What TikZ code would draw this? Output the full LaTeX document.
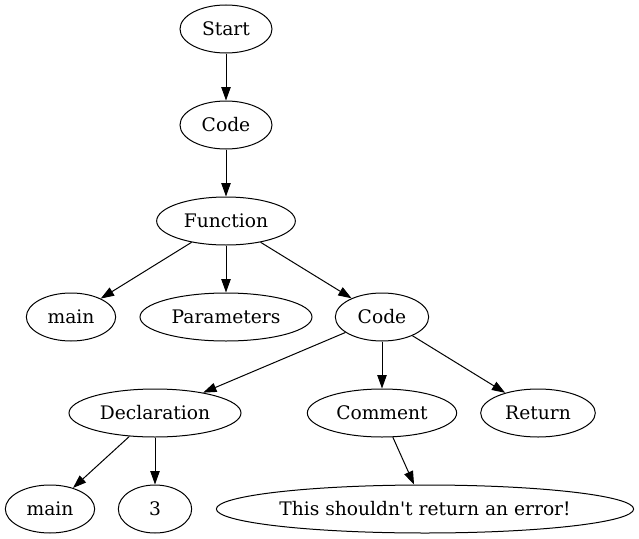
\documentclass[tikz,border=0pt]{standalone}
\usepackage{fontspec}
\setmainfont{DejaVu Serif}
\usetikzlibrary{shapes.geometric,arrows.meta}
\begin{document}
\begin{tikzpicture}[x=0.75pt,y=-0.75pt,
  every node/.style={draw,ellipse,line width=0.75pt,inner sep=1pt,minimum height=36pt,font=\fontsize{14}{16}\selectfont},
  tree/.style={line width=0.75pt,-{Triangle[length=10pt,width=7pt]}}]
\useasboundingbox (0,0) rectangle (639,539);

\node[minimum width=69pt] (st) at (226,29) {Start};
\node[minimum width=69pt] (cd) at (226,125) {Code};
\node[minimum width=104pt] (fn) at (226,221) {Function};
\node[minimum width=67pt] (mn) at (71,317) {main};
\node[minimum width=129pt] (pr) at (226,317) {Parameters};
\node[minimum width=70pt] (cb) at (382,317) {Code};
\node[minimum width=129pt] (dc) at (155,413) {Declaration};
\node[minimum width=112pt] (cm) at (382,413) {Comment};
\node[minimum width=86pt] (rt) at (538,413) {Return};
\node[minimum width=67pt] (mv) at (50,509) {main};
\node[minimum width=55pt] (nm) at (155,509) {3};
\node[minimum width=313pt] (tx) at (425,509) {This shouldn\textquotesingle t return an error!};

\draw[tree] (st) -- (cd);
\draw[tree] (cd) -- (fn);
\draw[tree] (fn) -- (mn);
\draw[tree] (fn) -- (pr);
\draw[tree] (fn) -- (cb);
\draw[tree] (cb) -- (dc);
\draw[tree] (cb) -- (cm);
\draw[tree] (cb) -- (rt);
\draw[tree] (dc) -- (mv);
\draw[tree] (dc) -- (nm);
\draw[tree] (cm) -- (tx);
\end{tikzpicture}
\end{document}
